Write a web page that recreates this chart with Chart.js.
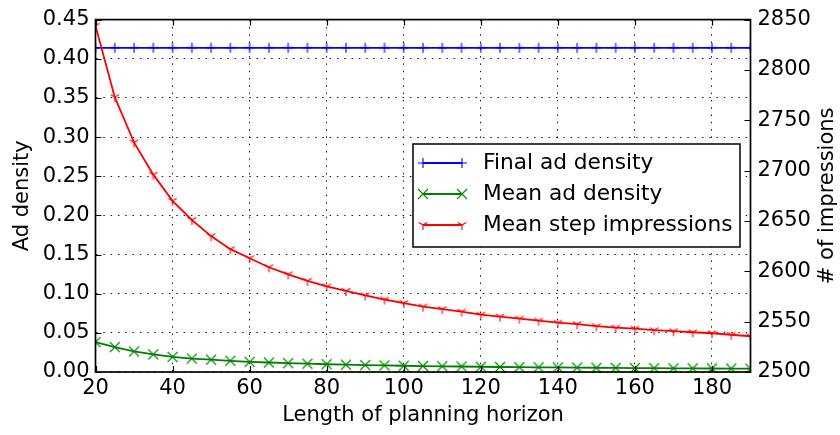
<!DOCTYPE html>
<html><head><meta charset="utf-8">
<script src="https://cdn.jsdelivr.net/npm/chart.js@4/dist/chart.umd.min.js"></script>
<style>html,body{margin:0;padding:0;background:#fff}#wrap{width:840px;height:435px;position:relative}</style>
</head><body><div id="wrap"><canvas id="c" width="840" height="435"></canvas></div>
<script>
const horizon = [20,25,30,35,40,45,50,55,60,65,70,75,80,85,90,95,100,105,110,115,120,125,130,135,140,145,150,155,160,165,170,175,180,185,190];
const finalAdDensity = [0.414,0.414,0.414,0.414,0.414,0.414,0.414,0.414,0.414,0.414,0.414,0.414,0.414,0.414,0.414,0.414,0.414,0.414,0.414,0.414,0.414,0.414,0.414,0.414,0.414,0.414,0.414,0.414,0.414,0.414,0.414,0.414,0.414,0.414,0.414];
const meanAdDensity = [0.0382,0.0318,0.0262,0.0225,0.0192,0.0172,0.0158,0.0143,0.0130,0.0121,0.0113,0.0106,0.0099,0.0094,0.0088,0.0084,0.0080,0.0076,0.0073,0.0070,0.0067,0.0064,0.0062,0.0060,0.0058,0.0056,0.0054,0.0052,0.0050,0.0049,0.0047,0.0046,0.0045,0.0044,0.0043];
const meanStepImpressions = [2844,2773,2728,2696,2670,2651,2635,2622,2613,2604,2597,2590.5,2585,2580.5,2576,2572,2568.5,2565,2562.5,2560,2557,2555,2553,2551,2549,2547.5,2545.5,2544,2543,2541.5,2540.5,2539.5,2538.5,2537,2535.5];
const xTicks = [20,40,60,80,100,120,140,160,180];
const leftTicks = [0,0.05,0.10,0.15,0.20,0.25,0.30,0.35,0.40,0.45];
const rightTicks = [2500,2550,2600,2650,2700,2750,2800,2850];
const seriesNames = ['Final ad density','Mean ad density','Mean step impressions'];
const xTitle = 'Length of planning horizon';
const leftTitle = 'Ad density';
const rightTitle = '# of impressions';

const FONT = "'DejaVu Sans', sans-serif";
const FS = 21;
const LEG_FS = 21.7;

function makeMarker(kind, color) {
  const c = document.createElement('canvas');
  c.width = 14; c.height = 14;
  const g = c.getContext('2d');
  g.strokeStyle = color; g.lineWidth = 1.1; g.lineCap = 'butt';
  g.beginPath();
  if (kind === 'plus') {
    g.moveTo(7, 2); g.lineTo(7, 12);
    g.moveTo(2, 7); g.lineTo(12, 7);
  } else if (kind === 'x') {
    g.moveTo(2, 2); g.lineTo(12, 12);
    g.moveTo(12, 2); g.lineTo(2, 12);
  } else {
    g.moveTo(7, 7); g.lineTo(7, 12);
    g.moveTo(7, 7); g.lineTo(2.7, 4.5);
    g.moveTo(7, 7); g.lineTo(11.3, 4.5);
  }
  g.stroke();
  return c;
}
const colors = ['#0000ff', '#008000', '#ff0000'];
const markers = [makeMarker('plus', colors[0]), makeMarker('x', colors[1]), makeMarker('tri', colors[2])];

const pts = (ys) => horizon.map((x, i) => ({x: x, y: ys[i]}));

const decorPlugin = {
  id: 'decor',
  afterDatasetsDraw(chart) {
    const ctx = chart.ctx;
    const a = chart.chartArea;
    const xs = chart.scales.x, yl = chart.scales.y, yr = chart.scales.y2;
    ctx.save();
    ctx.strokeStyle = '#000'; ctx.lineWidth = 1.2;
    ctx.beginPath();
    const TL = 6;
    xTicks.forEach(v => {
      const px = Math.round(xs.getPixelForValue(v)) + 0.5;
      ctx.moveTo(px, a.bottom); ctx.lineTo(px, a.bottom - TL);
      ctx.moveTo(px, a.top); ctx.lineTo(px, a.top + TL);
    });
    leftTicks.forEach(v => {
      const py = Math.round(yl.getPixelForValue(v)) + 0.5;
      ctx.moveTo(a.left, py); ctx.lineTo(a.left + TL, py);
    });
    rightTicks.forEach(v => {
      const py = Math.round(yr.getPixelForValue(v)) + 0.5;
      ctx.moveTo(a.right, py); ctx.lineTo(a.right - TL, py);
    });
    ctx.stroke();
    ctx.lineWidth = 1.7;
    ctx.strokeRect(a.left, a.top, a.right - a.left, a.bottom - a.top);
    ctx.fillStyle = '#000';
    ctx.font = FS + 'px ' + FONT;
    ctx.textAlign = 'center'; ctx.textBaseline = 'middle';
    ctx.fillText(xTitle, (a.left + a.right) / 2, 416);
    ctx.save();
    ctx.translate(23, (a.top + a.bottom) / 2);
    ctx.rotate(-Math.PI / 2);
    ctx.fillText(leftTitle, 0, 0);
    ctx.restore();
    ctx.save();
    ctx.translate(828, (a.top + a.bottom) / 2);
    ctx.rotate(-Math.PI / 2);
    ctx.fillText(rightTitle, 0, 0);
    ctx.restore();
    const L = 413, T = 144, R = 740, B = 247;
    ctx.fillStyle = '#fff';
    ctx.fillRect(L, T, R - L, B - T);
    ctx.strokeStyle = '#000'; ctx.lineWidth = 1.5;
    ctx.strokeRect(L, T, R - L, B - T);
    ctx.font = LEG_FS + 'px ' + FONT;
    const rows = [163, 194, 225];
    seriesNames.forEach((name, i) => {
      const y = rows[i];
      ctx.strokeStyle = colors[i]; ctx.lineWidth = 1.8;
      ctx.beginPath(); ctx.moveTo(423, y); ctx.lineTo(462, y); ctx.stroke();
      ctx.drawImage(markers[i], 423 - 7, y - 7);
      ctx.drawImage(markers[i], 462 - 7, y - 7);
      ctx.fillStyle = '#000';
      ctx.textAlign = 'left'; ctx.textBaseline = 'middle';
      ctx.fillText(name, 483, y);
    });
    ctx.restore();
  }
};

new Chart(document.getElementById('c'), {
  type: 'line',
  data: {
    datasets: [
      {label: seriesNames[0], data: pts(finalAdDensity), yAxisID: 'y', borderColor: colors[0], borderWidth: 1.8, pointStyle: markers[0], pointRadius: 5, order: 2, clip: 0, tension: 0},
      {label: seriesNames[1], data: pts(meanAdDensity), yAxisID: 'y', borderColor: colors[1], borderWidth: 1.8, pointStyle: markers[1], pointRadius: 5, order: 1, clip: 0, tension: 0},
      {label: seriesNames[2], data: pts(meanStepImpressions), yAxisID: 'y2', borderColor: colors[2], borderWidth: 1.8, pointStyle: markers[2], pointRadius: 5, order: 0, clip: 0, tension: 0}
    ]
  },
  options: {
    responsive: false, animation: false, devicePixelRatio: 1,
    layout: {padding: {top: 19, left: 0, right: 0, bottom: 0}},
    plugins: {legend: {display: false}, tooltip: {enabled: false}},
    scales: {
      x: {
        type: 'linear', min: 20, max: 190,
        afterFit: s => { s.height = 63; },
        afterBuildTicks: s => { s.ticks = xTicks.map(v => ({value: v})); },
        grid: {color: '#000', lineWidth: 0.9, drawTicks: false},
        border: {display: false, dash: [1.5, 5.8]},
        ticks: {color: '#000', font: {family: FONT, size: FS}, padding: 4, maxRotation: 0, autoSkip: false, callback: v => String(v)}
      },
      y: {
        type: 'linear', position: 'left', min: 0, max: 0.45,
        afterFit: s => { s.width = 95.5; },
        afterBuildTicks: s => { s.ticks = leftTicks.map(v => ({value: v})); },
        grid: {color: '#000', lineWidth: 0.9, drawTicks: false},
        border: {display: false, dash: [1.5, 5.8]},
        ticks: {color: '#000', font: {family: FONT, size: FS}, padding: 6, autoSkip: false, callback: v => Number(v).toFixed(2)}
      },
      y2: {
        type: 'linear', position: 'right', min: 2500, max: 2850,
        afterFit: s => { s.width = 89.5; },
        afterBuildTicks: s => { s.ticks = rightTicks.map(v => ({value: v})); },
        grid: {display: false, drawTicks: false},
        border: {display: false},
        ticks: {color: '#000', font: {family: FONT, size: FS}, padding: 7, autoSkip: false, callback: v => String(v)}
      }
    }
  },
  plugins: [decorPlugin]
});
</script>
</body></html>
